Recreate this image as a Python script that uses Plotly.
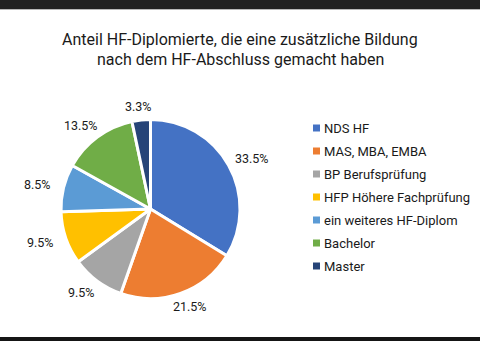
import math
import plotly.graph_objects as go

# Data
labels = ["NDS HF", "MAS, MBA, EMBA", "BP Berufsprüfung", "HFP Höhere Fachprüfung",
          "ein weiteres HF-Diplom", "Bachelor", "Master"]
values = [33.5, 21.5, 9.5, 9.5, 8.5, 13.5, 3.3]
colors = ["#4472C4", "#ED7D31", "#A5A5A5", "#FFC000", "#5B9BD5", "#70AD47", "#264478"]
title_lines = ["Anteil HF-Diplomierte, die eine zusätzliche Bildung",
               "nach dem HF-Abschluss gemacht haben"]

W, H = 480, 341
FONT = "Roboto, sans-serif"
TEXT = "#1a1a1a"

# Pie geometry in pixels
cx, cy, R = 150.5, 209.0, 89.5


def px(x):
    return x / W


def py(y):
    return 1 - y / H


fig = go.Figure(go.Pie(
    labels=labels,
    values=values,
    sort=False,
    direction="clockwise",
    rotation=0,
    marker=dict(colors=colors, line=dict(color="white", width=3)),
    textinfo="none",
    showlegend=False,
    domain=dict(x=[px(cx - R), px(cx + R)], y=[py(cy + R), py(cy - R)]),
))

annotations = []
shapes = []

# Percentage labels placed outside each slice, along the slice mid-angle
total = sum(values)
cum = 0.0
for v in values:
    mid = (cum + v / 2) / total * 2 * math.pi
    cum += v
    ux, uy = math.sin(mid), -math.cos(mid)
    annotations.append(dict(
        x=px(cx + ux * (R + 27)), y=py(cy + uy * (R + 14)),
        xref="paper", yref="paper",
        text=f"{v:.1f}%", showarrow=False, xanchor="center", yanchor="middle",
        font=dict(family=FONT, size=12.5, color=TEXT),
    ))

# Legend
ly0, ldy = 128, 23
for i, (lab, col) in enumerate(zip(labels, colors)):
    y = ly0 + i * ldy
    shapes.append(dict(type="rect", xref="paper", yref="paper",
                       x0=px(313), x1=px(320), y0=py(y + 3.5), y1=py(y - 3.5),
                       fillcolor=col, line=dict(width=0)))
    annotations.append(dict(
        x=px(322), y=py(y), xref="paper", yref="paper", text=lab,
        showarrow=False, xanchor="left", yanchor="middle",
        font=dict(family=FONT, size=13, color=TEXT),
    ))

# Title
for j, line in enumerate(title_lines):
    annotations.append(dict(
        x=0.5, y=py(39 + j * 20), xref="paper", yref="paper", text=line,
        showarrow=False, xanchor="center", yanchor="middle",
        font=dict(family=FONT, size=16, color=TEXT),
    ))

# Frame bars
shapes.append(dict(type="rect", xref="paper", yref="paper", x0=0, x1=1,
                   y0=py(9), y1=1, fillcolor="#222222", line=dict(width=0)))
shapes.append(dict(type="rect", xref="paper", yref="paper", x0=0, x1=1,
                   y0=py(10), y1=py(9), fillcolor="#b8b8b8", line=dict(width=0)))
shapes.append(dict(type="rect", xref="paper", yref="paper", x0=0, x1=1,
                   y0=0, y1=py(337), fillcolor="#151515", line=dict(width=0)))

fig.update_layout(
    width=W, height=H,
    margin=dict(l=0, r=0, t=0, b=0),
    paper_bgcolor="white", plot_bgcolor="white",
    annotations=annotations, shapes=shapes,
)

fig.write_html("out.html")
